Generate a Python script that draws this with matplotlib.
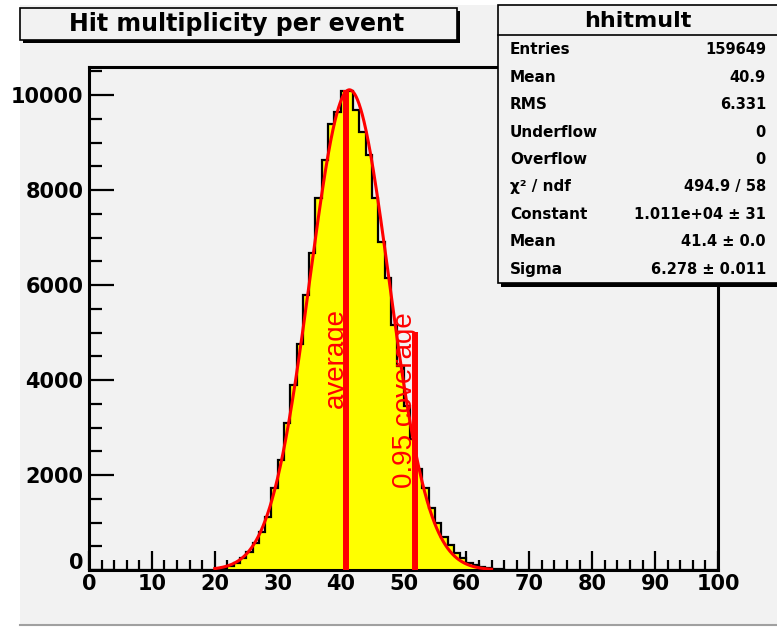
import numpy as np
import matplotlib
matplotlib.use("Agg")
import matplotlib.pyplot as plt
from matplotlib.patches import Rectangle
from matplotlib.lines import Line2D
import matplotlib.transforms as mtransforms
from matplotlib.ticker import MultipleLocator, FixedLocator

# ---- histogram content (1-unit bins over 0..100) ----
n_bins = 100
x_min, x_max = 0, 100
first_filled_bin = 20
hit_counts = [20, 40, 80, 150, 250, 380, 570, 800, 1120, 1720,
              2320, 3090, 3900, 4750, 5790, 6670, 7830, 8630, 9390, 9650,
              10090, 10090, 9690, 9230, 8740, 7830, 6910, 6140, 5160, 4300,
              3450, 2750, 2120, 1720, 1300, 980, 700, 525, 350, 250,
              150, 100, 70, 40, 25, 15]

# ---- gaussian fit result ----
fit_constant = 1.011e4
fit_mean = 41.4
fit_sigma = 6.278
fit_range = (20.0, 64.0)

# ---- marker lines ----
average_x = 40.8
average_top = 10100
coverage_x = 51.9
coverage_top = 5020

# ---- axis ticks ----
x_ticks = [0, 10, 20, 30, 40, 50, 60, 70, 80, 90, 100]
y_ticks = [0, 2000, 4000, 6000, 8000, 10000]
y_max = 10590

# ---- texts ----
title = "Hit multiplicity per event"
stats_title = "hhitmult"
stats_rows = [("Entries", "159649"),
              ("Mean", "40.9"),
              ("RMS", "6.331"),
              ("Underflow", "0"),
              ("Overflow", "0"),
              ("χ² / ndf", "494.9 / 58"),
              ("Constant", "1.011e+04 ± 31"),
              ("Mean", "41.4 ± 0.0"),
              ("Sigma", "6.278 ± 0.011")]

PAD = "#f2f2f2"
W, H = 777, 627

plt.rcParams["font.family"] = ["DejaVu Sans"]
plt.rcParams["font.weight"] = "bold"

fig = plt.figure(figsize=(W / 100, H / 100), dpi=100)
fig.patch.set_facecolor("white")


def fx(px):
    return px / W


def fy(py):
    return 1 - py / H


# canvas pad
fig.patches.append(Rectangle((fx(20), fy(625)), (W - 20) / W, (625 - 5) / H,
                             transform=fig.transFigure, fc=PAD, ec="none", zorder=-5))
fig.add_artist(Line2D([fx(20), 1], [fy(625), fy(625)], transform=fig.transFigure,
                      color="#a0a0a0", lw=1.5, zorder=-4))

ax = fig.add_axes([fx(89), fy(570), (718 - 89) / W, (570 - 67) / H])
ax.set_facecolor(PAD)
ax.set_xlim(x_min, x_max)
ax.set_ylim(0, y_max)

counts = np.zeros(n_bins)
counts[first_filled_bin:first_filled_bin + len(hit_counts)] = hit_counts
edges = np.linspace(x_min, x_max, n_bins + 1)

ax.stairs(counts, edges, fill=True, color="#ffff00", zorder=2)
ax.stairs(counts, edges, color="black", lw=1.6, zorder=3)

xs = np.linspace(fit_range[0], fit_range[1], 500)
ax.plot(xs, fit_constant * np.exp(-0.5 * ((xs - fit_mean) / fit_sigma) ** 2),
        color="red", lw=2.2, zorder=4)

for xv, top in [(average_x, average_top), (coverage_x, coverage_top)]:
    ax.plot([xv, xv], [0, top], color="red", lw=4.3, solid_capstyle="butt", zorder=5)

label_font = ["Liberation Sans", "DejaVu Sans"]
ax.text(40.3, 3410, "average", rotation=90, rotation_mode="anchor",
        ha="left", va="baseline", color="red", fontsize=20,
        family=label_font, fontweight="normal", zorder=6)
ax.text(51.4, 1726, "0.95 coverage", rotation=90, rotation_mode="anchor",
        ha="left", va="baseline", color="red", fontsize=20,
        family=label_font, fontweight="normal", zorder=6)

for s in ax.spines.values():
    s.set_linewidth(2.2)
    s.set_color("black")

ax.xaxis.set_major_locator(FixedLocator(x_ticks))
ax.xaxis.set_minor_locator(MultipleLocator(2))
ax.yaxis.set_major_locator(FixedLocator(y_ticks))
ax.yaxis.set_minor_locator(MultipleLocator(500))
ax.tick_params(axis="both", which="both", direction="in", top=False, right=False,
               width=1.6, color="black")
ax.tick_params(axis="x", which="major", length=14, pad=3, labelsize=15)
ax.tick_params(axis="x", which="minor", length=7)
ax.tick_params(axis="y", which="major", length=18, pad=4, labelsize=15)
ax.tick_params(axis="y", which="minor", length=9)
ax.set_xticklabels([str(v) for v in x_ticks], fontweight="bold")
ax.set_yticklabels([str(v) for v in y_ticks], fontweight="bold")

# lift the y-axis zero label clear of the x-axis zero
zero_lbl = ax.yaxis.get_major_ticks()[0].label1
zero_lbl.set_transform(zero_lbl.get_transform() +
                       mtransforms.ScaledTranslation(0, 9 / 100, fig.dpi_scale_trans))

# title box with shadow
fig.patches.append(Rectangle((fx(23), fy(43)), (457 - 20) / W, (40 - 8) / H,
                             transform=fig.transFigure, fc="black", ec="none", zorder=2))
fig.patches.append(Rectangle((fx(20), fy(40)), (457 - 20) / W, (40 - 8) / H,
                             transform=fig.transFigure, fc=PAD, ec="black", lw=1.2, zorder=2.1))
fig.text(fx(237), fy(23.5), title, ha="center", va="center", fontsize=17,
         fontweight="bold", zorder=3)

# statistics box with shadow
fig.patches.append(Rectangle((fx(500.5), fy(286.5)), 300 / W, (283 - 5) / H,
                             transform=fig.transFigure, fc="black", ec="none", zorder=2))
fig.patches.append(Rectangle((fx(497.5), fy(283)), 300 / W, (283 - 5) / H,
                             transform=fig.transFigure, fc=PAD, ec="black", lw=1.2, zorder=2.1))
fig.add_artist(Line2D([fx(497.5), 1], [fy(35), fy(35)], transform=fig.transFigure,
                      color="black", lw=1.2, zorder=2.2))
fig.text(fx(638), fy(21), stats_title, ha="center", va="center", fontsize=16,
         fontweight="bold", zorder=3)
for i, (name, val) in enumerate(stats_rows):
    yy = fy(50 + 27.4 * i)
    fig.text(fx(510), yy, name, ha="left", va="center", fontsize=11,
             fontweight="bold", zorder=3)
    fig.text(fx(766), yy, val, ha="right", va="center", fontsize=10.5,
             fontweight="bold", zorder=3)

fig.savefig("out.png", dpi=100, facecolor=fig.get_facecolor())
